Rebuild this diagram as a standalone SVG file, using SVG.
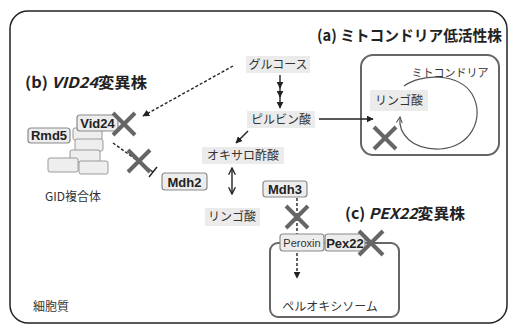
<svg xmlns="http://www.w3.org/2000/svg" width="508" height="325" viewBox="0 0 508 325">
  <style>
    .jp { font-family: "Noto Sans CJK JP", "Noto Sans", sans-serif; }
    .title { font-size: 15px; font-weight: bold; fill: #222; }
    .met { font-size: 12px; fill: #333; text-anchor: middle; }
    .metbox { fill: #ebebeb; stroke: none; }
    .prot { fill: #ededed; stroke: #8a8a8a; stroke-width: 1.2; }
    .plabel { font-family: "Liberation Sans", "Noto Sans", sans-serif; font-size: 13px; font-weight: bold; fill: #222; text-anchor: middle; }
    .gid { fill: #eeeeee; stroke: #9a9a9a; stroke-width: 1; }
    .cross { stroke: #666; stroke-width: 4; stroke-linecap: butt; fill: none; }
    .line { stroke: #222; stroke-width: 1.4; fill: none; }
    .dash { stroke: #222; stroke-width: 1.4; fill: none; stroke-dasharray: 3 2; }
    .organelle { fill: #fff; stroke: #666; stroke-width: 2; }
  </style>
  <defs>
    <marker id="tri" viewBox="0 0 10 10" refX="9" refY="5" markerWidth="5" markerHeight="5" orient="auto">
      <path d="M0,0 L10,5 L0,10 z" fill="#222"/>
    </marker>
    <marker id="chev" viewBox="0 0 10 10" refX="9" refY="5" markerWidth="6" markerHeight="6" orient="auto-start-reverse">
      <path d="M1,1 L9,5 L1,9" fill="none" stroke="#222" stroke-width="1.6"/>
    </marker>
    <marker id="openhead" viewBox="0 0 10 10" refX="8" refY="5" markerWidth="7" markerHeight="7" orient="auto">
      <path d="M1,1.5 L8,5 L1,8.5" fill="none" stroke="#555" stroke-width="1.3"/>
    </marker>
  </defs>

  <!-- cell boundary -->
  <rect x="10" y="11" width="497" height="312" rx="18" ry="18" fill="#fff" stroke="#222" stroke-width="1.5"/>

  <!-- headings -->
  <text class="jp title" x="317" y="41" textLength="185" lengthAdjust="spacingAndGlyphs">(a) ミトコンドリア低活性株</text>
  <text class="jp title" x="25" y="88" textLength="122" lengthAdjust="spacingAndGlyphs">(b) <tspan font-style="italic">VID24</tspan>変異株</text>
  <text class="jp title" x="345" y="219" textLength="120" lengthAdjust="spacingAndGlyphs">(c) <tspan font-style="italic">PEX22</tspan>変異株</text>

  <!-- mitochondrion -->
  <g id="mitochondria">
    <rect class="organelle" x="361" y="55" width="138" height="100" rx="12" ry="12"/>
    <text class="jp" x="450" y="77" font-size="11" fill="#333" text-anchor="middle">ミトコンドリア</text>
  </g>

  <!-- peroxisome -->
  <g id="peroxisome">
    <rect class="organelle" x="270" y="243" width="129" height="74" rx="8" ry="8"/>
    <text class="jp" x="330" y="311" font-size="12" fill="#333" text-anchor="middle">ペルオキシソーム</text>
  </g>

  <!-- connectors -->
  <g id="connectors">
    <!-- glucose to pyruvate, multi-step -->
    <line class="line" x1="280" y1="75" x2="280" y2="88" marker-end="url(#tri)"/>
    <line class="line" x1="280" y1="87" x2="280" y2="97" marker-end="url(#tri)"/>
    <line class="line" x1="280" y1="96" x2="280" y2="108" marker-end="url(#tri)"/>
    <!-- pyruvate into mitochondrion -->
    <line class="line" x1="319" y1="119" x2="373" y2="119" marker-end="url(#tri)"/>
    <!-- pyruvate to oxaloacetate -->
    <line class="line" x1="248" y1="131" x2="236" y2="143" marker-end="url(#tri)"/>
    <!-- oxaloacetate <-> malate -->
    <line class="line" x1="232" y1="168" x2="232" y2="194" marker-start="url(#chev)" marker-end="url(#chev)"/>
    <!-- glucose signal to Vid24 -->
    <line class="dash" x1="233" y1="66" x2="143" y2="116" marker-end="url(#tri)"/>
    <!-- GID to Mdh2 inhibition -->
    <line class="dash" x1="113" y1="143" x2="138" y2="161"/>
    <line class="line" x1="138" y1="161" x2="153" y2="172"/>
    <line class="line" x1="149" y1="177" x2="157" y2="167" stroke-width="1.6"/>
    <!-- Mdh3 import into peroxisome -->
    <line class="dash" x1="297" y1="198" x2="297" y2="278" marker-end="url(#tri)"/>
    <!-- malate cycle in mitochondrion -->
    <path d="M404,86 C420,74 458,72 472,94 C486,118 470,148 440,149 C412,150 398,134 400,117" fill="none" stroke="#555" stroke-width="1.2" marker-end="url(#openhead)"/>
  </g>

  <!-- metabolites -->
  <g id="glucose">
    <rect class="metbox" x="246" y="56" width="64" height="17"/>
    <text class="jp met" x="278" y="69">グルコース</text>
  </g>
  <g id="pyruvate">
    <rect class="metbox" x="247" y="111" width="68" height="17"/>
    <text class="jp met" x="281" y="124">ピルビン酸</text>
  </g>
  <g id="oxaloacetate">
    <rect class="metbox" x="202" y="147" width="82" height="17"/>
    <text class="jp met" x="243" y="160">オキサロ酢酸</text>
  </g>
  <g id="malate-cytosol">
    <rect class="metbox" x="205" y="208" width="55" height="18"/>
    <text class="jp met" x="232" y="221">リンゴ酸</text>
  </g>
  <g id="malate-mito">
    <rect class="metbox" x="370" y="90" width="58" height="21"/>
    <text class="jp met" x="399" y="105">リンゴ酸</text>
  </g>

  <!-- GID complex -->
  <g id="gid-complex">
    <rect class="gid" x="73" y="128" width="29" height="12" rx="2"/>
    <rect class="gid" x="75" y="139" width="28" height="12" rx="2"/>
    <rect class="gid" x="70" y="150" width="30" height="12" rx="2"/>
    <rect class="gid" x="48" y="158" width="30" height="14" rx="2"/>
    <rect class="gid" x="79" y="161" width="29" height="13" rx="2"/>
    <text class="jp" x="73" y="201" font-size="12" fill="#333" text-anchor="middle">GID複合体</text>
  </g>
  <g id="vid24">
    <rect class="prot" x="77" y="115" width="41" height="16" rx="3"/>
    <text class="plabel" x="97.5" y="127.5">Vid24</text>
  </g>
  <g id="rmd5">
    <rect class="prot" x="28" y="128" width="42" height="15" rx="3"/>
    <text class="plabel" x="49" y="140">Rmd5</text>
  </g>
  <g id="mdh2">
    <rect class="prot" x="162" y="173" width="45" height="17" rx="3"/>
    <text class="plabel" x="184.5" y="186.5">Mdh2</text>
  </g>
  <g id="mdh3">
    <rect class="prot" x="263" y="181" width="44" height="16" rx="3"/>
    <text class="plabel" x="285" y="194">Mdh3</text>
  </g>
  <g id="peroxin">
    <rect class="prot" x="280" y="234" width="44" height="17" rx="3"/>
    <text x="302" y="247" font-family="'Liberation Sans', sans-serif" font-size="11" fill="#333" text-anchor="middle">Peroxin</text>
  </g>
  <g id="pex22">
    <rect class="prot" x="325" y="234" width="40" height="17" rx="3"/>
    <text class="plabel" x="345" y="247.5">Pex22</text>
  </g>

  <!-- blocked steps -->
  <g id="blocks">
    <path class="cross" d="M113,113 L135,135 M135,113 L113,135"/>
    <path class="cross" d="M128,150 L150,172 M150,150 L128,172"/>
    <path class="cross" d="M286,206 L308,228 M308,206 L286,228"/>
    <path class="cross" d="M359,231 L383,255 M383,231 L359,255"/>
    <path class="cross" d="M374,127 L396,149 M396,127 L374,149"/>
  </g>

  <text class="jp" x="33" y="311" font-size="12" fill="#333">細胞質</text>
</svg>
